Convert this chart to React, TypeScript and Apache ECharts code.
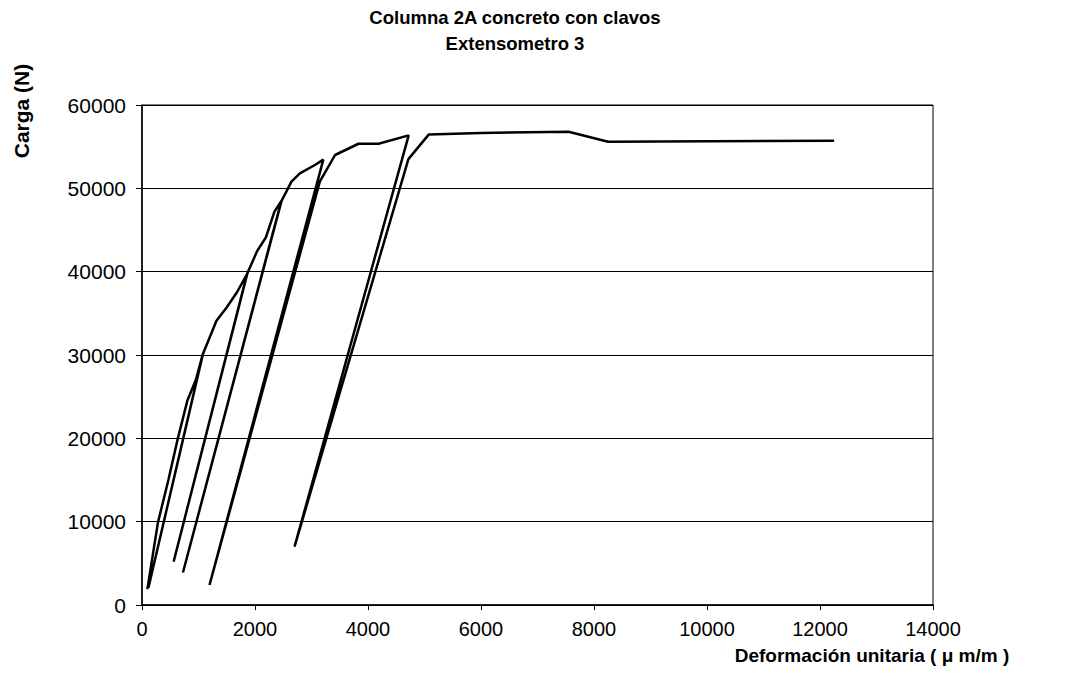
import React, { useEffect, useRef } from "react";
import * as echarts from "echarts";

// Load–strain record (single continuous series with loading/unloading cycles)
const strain: number[] = [
  95, 282, 467, 635, 802, 952, 1076,
  115, 1080,
  1318, 1498, 1678, 1859,
  560, 1865,
  2040, 2192, 2344, 2464,
  725, 2470,
  2584, 2645, 2794, 3061, 3209,
  1195, 3147,
  3417, 3832, 4186, 4720,
  2700, 4715,
  5074, 6000, 7550, 8250, 12250,
];
const load: number[] = [
  1900, 9900, 15000, 20000, 24500, 27000, 30100,
  2100, 30150,
  34100, 35700, 37500, 39700,
  5200, 39800,
  42500, 44100, 47200, 48450,
  3900, 48500,
  50000, 50800, 51800, 52800, 53450,
  2400, 50800,
  54000, 55350, 55350, 56350,
  7000, 53500,
  56450, 56650, 56800, 55600, 55700,
];

const titleLines = ["Columna 2A concreto con clavos", "Extensometro 3"];
const yName = "Carga (N)";
const xName = "Deformación unitaria ( μ m/m )";

const FONT = "'Liberation Sans', Arial, sans-serif";

export default function App() {
  const ref = useRef<HTMLDivElement>(null);
  useEffect(() => {
    if (!ref.current) return;
    const chart = echarts.init(ref.current, null, { renderer: "svg" });
    const data = strain.map((x, i) => [x, load[i]]);
    chart.setOption({
      animation: false,
      backgroundColor: "#fff",
      textStyle: { fontFamily: FONT },
      grid: {
        left: 142,
        top: 105,
        width: 791,
        height: 500,
        show: true,
        borderColor: "#000",
        borderWidth: 1,
        backgroundColor: "transparent",
      },
      xAxis: {
        type: "value",
        min: 0,
        max: 14000,
        interval: 2000,
        axisLine: { show: true, onZero: false, lineStyle: { color: "#000", width: 1.5 } },
        axisTick: { show: true, inside: false, length: 5, lineStyle: { color: "#000", width: 1 } },
        splitLine: { show: false },
        axisLabel: {
          color: "#000",
          fontSize: 20,
          fontFamily: FONT,
          margin: 14,
          formatter: (v: number) => String(v),
        },
      },
      yAxis: {
        type: "value",
        min: 0,
        max: 60000,
        interval: 10000,
        axisLine: { show: true, lineStyle: { color: "#000", width: 1.5 } },
        axisTick: { show: true, inside: false, length: 6, lineStyle: { color: "#000", width: 1 } },
        splitLine: { show: true, lineStyle: { color: "#000", width: 1 } },
        axisLabel: {
          color: "#000",
          fontSize: 21,
          fontFamily: FONT,
          margin: 16,
          formatter: (v: number) => String(v),
        },
      },
      graphic: [
        {
          type: "text",
          x: 515,
          y: 17,
          style: {
            text: titleLines[0],
            fill: "#000",
            font: `bold 18.5px ${FONT}`,
            textAlign: "center",
            textVerticalAlign: "middle",
          },
        },
        {
          type: "text",
          x: 515,
          y: 43,
          style: {
            text: titleLines[1],
            fill: "#000",
            font: `bold 18.5px ${FONT}`,
            textAlign: "center",
            textVerticalAlign: "middle",
          },
        },
        {
          type: "text",
          x: 21,
          y: 111,
          rotation: Math.PI / 2,
          style: {
            text: yName,
            fill: "#000",
            font: `bold 21px ${FONT}`,
            textAlign: "center",
            textVerticalAlign: "middle",
          },
        },
        {
          type: "text",
          x: 872,
          y: 655,
          style: {
            text: xName,
            fill: "#000",
            font: `bold 19px ${FONT}`,
            textAlign: "center",
            textVerticalAlign: "middle",
          },
        },
      ],
      series: [
        {
          type: "line",
          data,
          showSymbol: false,
          smooth: false,
          lineStyle: { color: "#000", width: 2.5 },
          itemStyle: { color: "#000" },
        },
      ],
    });
    return () => chart.dispose();
  }, []);
  return (
    <div
      ref={ref}
      style={{ position: "absolute", left: 0, top: 0, width: 1072, height: 686, background: "#fff" }}
    />
  );
}
